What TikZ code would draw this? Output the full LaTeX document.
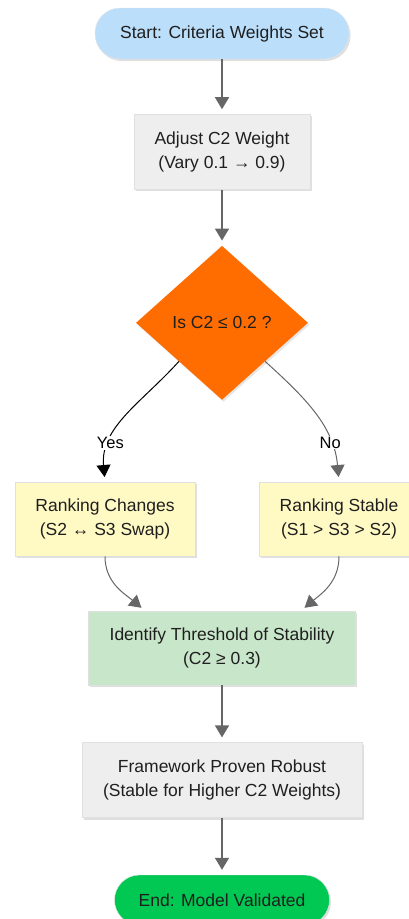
\documentclass[tikz,border=0pt]{standalone}
\usepackage{fontspec}
\setmainfont{Liberation Sans}
\usetikzlibrary{arrows.meta, positioning, shapes, shadows}

\definecolor{startblue}{HTML}{BBDEFB}
\definecolor{stepgray}{HTML}{EEEEEE}
\definecolor{checkorange}{HTML}{FF6D00}
\definecolor{rankyellow}{HTML}{FFF9C4}
\definecolor{threshgreen}{HTML}{C8E6C9}
\definecolor{endgreen}{HTML}{00C853}
\definecolor{linegray}{HTML}{666666}

\begin{document}
\begin{tikzpicture}[
    x=1pt, y=1pt,
    font=\fontsize{17.5}{23.5}\selectfont,
    node distance=55pt,
    box/.style={rectangle, draw=black!12, fill=#1, minimum height=75pt, align=center, text=black!88,
        drop shadow={opacity=0.25, shadow xshift=1.5pt, shadow yshift=-2pt}},
    term/.style={rectangle, rounded corners=25pt, draw=black!10, fill=#1, minimum height=51pt, align=center, text=black!88,
        drop shadow={opacity=0.25, shadow xshift=1.5pt, shadow yshift=-2pt}},
    check/.style={diamond, fill=checkorange, inner sep=0pt, minimum width=172pt, minimum height=154pt, text=black!88,
        drop shadow={opacity=0.2, shadow xshift=1.5pt, shadow yshift=-2pt}},
    arrow/.style={-{Triangle[width=14pt, length=12pt]}, line width=1.5pt, draw=linegray, shorten >=5pt},
    branch/.style={-{Triangle[width=14pt, length=12pt]}, line width=1pt, shorten >=5pt},
    tag/.style={fill=white, inner sep=1pt, font=\fontsize{16.5}{20}\selectfont}
]
    \useasboundingbox (0,0) rectangle (409,-919);

    % Top level
    \node[term=startblue, minimum width=254pt] (start) at (222,-33.5) {Start: Criteria Weights Set};
    \node[box=stepgray, minimum width=176pt, below=55pt of start] (adjust) {Adjust C2 Weight\\(Vary 0.1 → 0.9)};

    % Decision
    \node[check, below=56pt of adjust] (decide) {Is C2 ≤ 0.2 ?};

    % Outcomes
    \node[box=rankyellow, minimum width=180pt, minimum height=74pt, below=82pt of decide, xshift=-117pt] (changes) {Ranking Changes\\(S2 ↔ S3 Swap)};
    \node[box=rankyellow, minimum width=160pt, minimum height=74pt, below=82pt of decide, xshift=117pt] (stable) {Ranking Stable\\(S1 > S3 > S2)};

    % Result
    \node[box=threshgreen, minimum width=267pt, minimum height=74pt, below=211pt of decide] (threshold) {Identify Threshold of Stability\\(C2 ≥ 0.3)};
    \node[box=stepgray, minimum width=280pt, below=57pt of threshold] (robust) {Framework Proven Robust\\(Stable for Higher C2 Weights)};
    \node[term=endgreen, minimum width=215pt, minimum height=50pt, below=57pt of robust] (finish) {End: Model Validated};

    % Arrows
    \draw[arrow] (start) -- (adjust);
    \draw[arrow] (adjust) -- (decide);
    \draw[branch, draw=black] (decide.south west) to[out=-132, in=95] node[tag, pos=0.73] {Yes} (changes.north);
    \draw[branch, draw=linegray] (decide.south east) to[out=-42, in=95] node[tag, pos=0.73] {No} (stable.north);
    \draw[branch, draw=linegray] (changes.south) to[out=-90, in=140] ([xshift=57pt]threshold.north west);
    \draw[branch, draw=linegray] (stable.south) to[out=-90, in=40] ([xshift=-55pt]threshold.north east);
    \draw[arrow] (threshold) -- (robust);
    \draw[arrow] (robust) -- (finish);

\end{tikzpicture}
\end{document}
